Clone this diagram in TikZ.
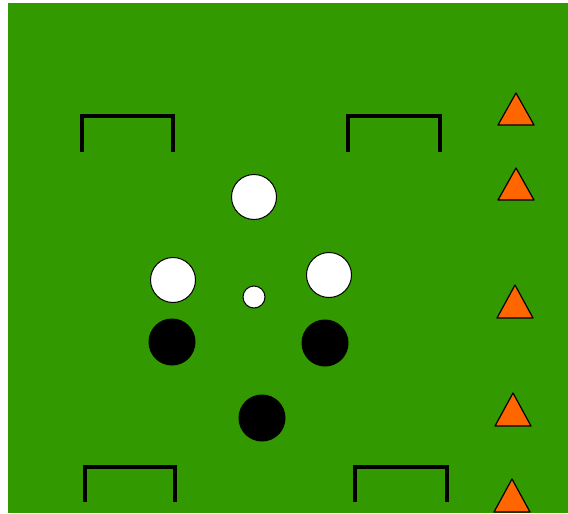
\documentclass[tikz,border=0pt]{standalone}
\usetikzlibrary{shapes.geometric}
\definecolor{field}{RGB}{51,153,0}
\definecolor{cone}{RGB}{255,102,0}
\begin{document}
\begin{tikzpicture}[x=1pt,y=-1pt,
  goal/.style={line width=3.5pt,line cap=butt,line join=miter},
  conetri/.style={fill=cone,draw=black,line width=1.2pt,line join=round},
  whiteplayer/.style={circle,fill=white,draw=black,line width=1pt,inner sep=0pt,minimum size=45pt},
  blackplayer/.style={circle,fill=black,draw=black,line width=1pt,inner sep=0pt,minimum size=46pt},
  ballstyle/.style={circle,fill=white,draw=black,line width=1pt,inner sep=0pt,minimum size=22pt}]
\useasboundingbox (0,0) rectangle (568,514);
\fill[field] (8,3) rectangle (568,513);
% goals
\draw[goal] (82,152) -- (82,116) -- (173,116) -- (173,152);
\draw[goal] (348,152) -- (348,116) -- (440,116) -- (440,152);
\draw[goal] (85,502) -- (85,467) -- (175,467) -- (175,502);
\draw[goal] (355,502) -- (355,467) -- (447,467) -- (447,502);
% cones
\draw[conetri] (516,93) -- (534,125) -- (498,125) -- cycle;
\draw[conetri] (516,168) -- (534,200) -- (498,200) -- cycle;
\draw[conetri] (515,285) -- (533,318) -- (497,318) -- cycle;
\draw[conetri] (513,393) -- (531,426) -- (495,426) -- cycle;
\draw[conetri] (512,479) -- (530,512) -- (494,512) -- cycle;
% players
\node[whiteplayer] (w1) at (254,197) {};
\node[whiteplayer] (w2) at (173,280) {};
\node[whiteplayer] (w3) at (329,275) {};
\node[ballstyle] (ball) at (254,297) {};
\node[blackplayer] (b1) at (172,342) {};
\node[blackplayer] (b2) at (325,343) {};
\node[blackplayer] (b3) at (262,418) {};
\end{tikzpicture}
\end{document}
